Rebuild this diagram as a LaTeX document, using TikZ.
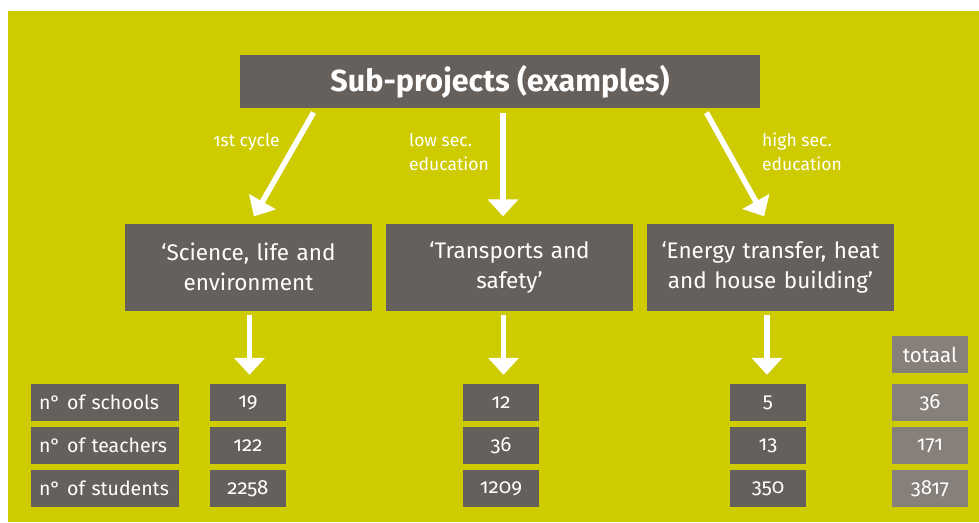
\documentclass[tikz,border=0pt]{standalone}
\usepackage{fontspec}
\setmainfont{Fira Sans}[Numbers=OldStyle]
\usetikzlibrary{arrows.meta}
\definecolor{leaf}{RGB}{206,204,0}
\definecolor{slate}{RGB}{102,96,92}
\definecolor{ash}{RGB}{134,127,122}
\tikzset{
  box/.style={fill=slate, text=white, inner sep=0pt, align=center},
  topic/.style={box, minimum width=247pt, minimum height=87pt, text width=240pt,
    font=\fontsize{22.5}{30}\selectfont},
  rowlabel/.style={box, minimum width=148pt, minimum height=37pt, text width=132pt,
    align=left, font=\fontsize{19.5}{22}\selectfont},
  cell/.style={box, minimum width=76pt, minimum height=37pt, font=\fontsize{20.5}{22}\selectfont},
  total/.style={cell, fill=ash},
  arr/.style={draw=white, line width=5.5pt, -{Triangle[length=17pt,width=30pt]}},
  note/.style={text=white, inner sep=0pt, anchor=north west, align=left,
    font=\fontsize{17.5}{24}\selectfont}
}
\begin{document}
\begin{tikzpicture}[x=1pt,y=-1pt]
  \useasboundingbox (0,0) rectangle (979,522);
  \fill[leaf] (8,11) rectangle (979,522);

  % heading
  \node[box, minimum width=520pt, minimum height=53pt,
        font=\fontsize{30.5}{32}\selectfont\bfseries] (top) at (500,81.5) {Sub-projects (examples)};

  % the three sub-projects
  \node[topic] (sci) at (248.5,267) {‘Science, life and\\environment};
  \node[topic] (tra) at (509.5,267) {‘Transports and\\safety’};
  \node[topic] (ene) at (770.5,267) {‘Energy transfer, heat\\and house building’};

  % school levels
  \node[note] (l1) at (213,133) {1st cycle};
  \node[note] (l2) at (409,133) {low sec.\\education};
  \node[note] (l3) at (762,133) {high sec.\\education};

  \draw[arr, shorten <=5pt, shorten >=8pt] ([xshift=-184pt]top.south) -- ([xshift=1.5pt]sci.north);
  \draw[arr, shorten <=5pt, shorten >=7pt] ([xshift=3pt]top.south) -- ([xshift=-6.5pt]tra.north);
  \draw[arr, shorten <=5pt, shorten >=8pt] ([xshift=204pt]top.south) -- ([xshift=-2.5pt]ene.north);

  % row labels
  \node[rowlabel] (rs) at (105,402.5) {n° of schools};
  \node[rowlabel] (rt) at (105,445.5) {n° of teachers};
  \node[rowlabel] (rp) at (105,488.5) {n° of students};

  % figures per sub-project
  \node[cell] (a1) at (248,402.5) {19};
  \node[cell] (a2) at (248,445.5) {122};
  \node[cell] (a3) at (248,488.5) {2258};
  \node[cell] (b1) at (501,402.5) {12};
  \node[cell] (b2) at (501,445.5) {36};
  \node[cell] (b3) at (501,488.5) {1209};
  \node[cell] (c1) at (768,402.5) {5};
  \node[cell] (c2) at (768,445.5) {13};
  \node[cell] (c3) at (768,488.5) {350};

  % totals
  \node[total] (th) at (930,354.5) {totaal};
  \node[total] (t1) at (930,402.5) {36};
  \node[total] (t2) at (930,445.5) {171};
  \node[total] (t3) at (930,488.5) {3817};

  \draw[arr, shorten <=4pt, shorten >=9pt] ([xshift=1pt]sci.south) -- ([xshift=1.5pt]a1.north);
  \draw[arr, shorten <=4pt, shorten >=9pt] ([xshift=-6pt]tra.south) -- ([xshift=2.5pt]b1.north);
  \draw[arr, shorten <=4pt, shorten >=9pt] ([xshift=-3.5pt]ene.south) -- ([xshift=-1pt]c1.north);
\end{tikzpicture}
\end{document}
